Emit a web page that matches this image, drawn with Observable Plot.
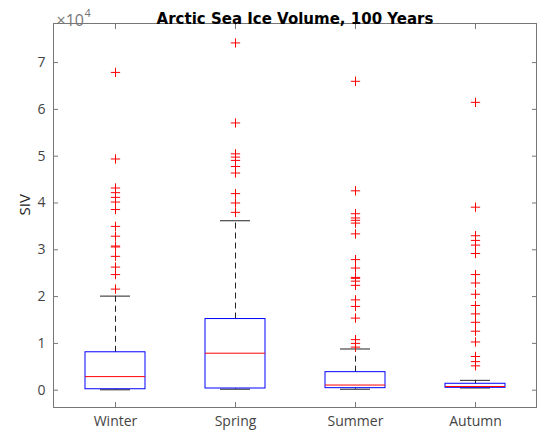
<!DOCTYPE html>
<html><head><meta charset="utf-8">
<script src="https://cdn.jsdelivr.net/npm/d3@7"></script>
<script src="https://cdn.jsdelivr.net/npm/@observablehq/plot@0.6"></script>
<style>body{margin:0;background:#fff} #chart svg{display:block}</style>
</head><body><div id="chart"></div>
<script>
// Categories
const seasons = ["Winter", "Spring", "Summer", "Autumn"];
// Box statistics (SIV)
const lowerWhisker = [80, 210, 200, 470];
const q1 = [200, 360, 430, 510];
const median = [2900, 7900, 1100, 790];
const q3 = [8100, 15200, 3850, 1370];
const upperWhisker = [20100, 36200, 8800, 2100];
// Outliers per season
const winterOutliers = [67900, 49400, 43200, 42200, 41200, 40200, 38600, 35000, 32900, 30800, 30600, 28600, 26300, 24700, 21600];
const springOutliers = [74200, 57100, 50500, 49800, 49100, 47800, 46400, 42000, 40000, 38000];
const summerOutliers = [66000, 42600, 37700, 36800, 36300, 35700, 33400, 27900, 26100, 24100, 23900, 23300, 22400, 19300, 17900, 15400, 10800, 10000, 9200];
const autumnOutliers = [61500, 39100, 33000, 32000, 31000, 29200, 24700, 22900, 20500, 18100, 16300, 14500, 12600, 10300, 7200, 6100, 5200];
// Tick values
const yTicks = [0, 10000, 20000, 30000, 40000, 50000, 60000, 70000];
const title = "Arctic Sea Ice Volume, 100 Years";
const yLabel = "SIV";
const exponentBase = "×10";
const exponentPower = "4";

const boxes = seasons.map((s, i) => ({season: s, lo: lowerWhisker[i], q1: q1[i], med: median[i], q3: q3[i], hi: upperWhisker[i]}));
const outliers = [winterOutliers, springOutliers, summerOutliers, autumnOutliers]
  .flatMap((arr, i) => arr.map(v => ({season: seasons[i], value: v})));

const axisGray = "#777";
const textGray = "#444";

const chart = Plot.plot({
  width: 540, height: 438,
  marginLeft: 53, marginRight: 4, marginTop: 23, marginBottom: 31,
  style: {fontFamily: "'Open Sans', sans-serif", fontSize: "14px", background: "#fff", color: textGray},
  x: {type: "band", domain: seasons, paddingInner: 0.5, paddingOuter: 0.25, label: null},
  y: {domain: [-3700, 78350], label: null},
  marks: [
    Plot.frame({stroke: axisGray}),
    Plot.axisY({ticks: yTicks, tickSize: -5, tickPadding: 13, tickFormat: d => d / 1e4, label: null, stroke: axisGray, fill: textGray, fontSize: 14}),
    Plot.axisY({anchor: "right", ticks: yTicks, tickSize: -5, tickFormat: () => "", label: null, stroke: axisGray}),
    Plot.axisX({anchor: "bottom", tickSize: -5, tickPadding: 14, label: null, stroke: axisGray, fill: textGray, fontSize: 14}),
    Plot.axisX({anchor: "top", tickSize: -5, tickFormat: () => "", label: null, stroke: axisGray}),
    Plot.ruleX(boxes, {x: "season", y1: "q3", y2: "hi", stroke: "#222", strokeDasharray: "6,4"}),
    Plot.ruleX(boxes, {x: "season", y1: "lo", y2: "q1", stroke: "#222", strokeDasharray: "6,4"}),
    Plot.tickY(boxes, {x: "season", y: "hi", stroke: "#222", inset: 15}),
    Plot.tickY(boxes, {x: "season", y: "lo", stroke: "#222", inset: 15}),
    Plot.barY(boxes, {x: "season", y1: "q1", y2: "q3", fill: "none", stroke: "blue"}),
    Plot.tickY(boxes, {x: "season", y: "med", stroke: "red"}),
    Plot.dot(outliers, {x: "season", y: "value", symbol: "plus", r: 3.1, stroke: "red", strokeWidth: 1}),
    Plot.text([title], {text: d => d, frameAnchor: "top", dy: -10, fontWeight: "bold", fontSize: 15, fill: "#000", fontFamily: "'DejaVu Sans', sans-serif"}),
    Plot.text([exponentBase], {text: d => d, frameAnchor: "top-left", dx: 3, dy: -9, textAnchor: "start", fontSize: 16, fill: "#777"}),
    Plot.text([exponentPower], {text: d => d, frameAnchor: "top-left", dx: 31, dy: -14, textAnchor: "start", fontSize: 11, fill: "#777"}),
    Plot.text([yLabel], {text: d => d, frameAnchor: "left", dx: -28, rotate: -90, fontSize: 15, fill: "#222"})
  ]
});
document.getElementById("chart").appendChild(chart);
</script>
</body></html>
